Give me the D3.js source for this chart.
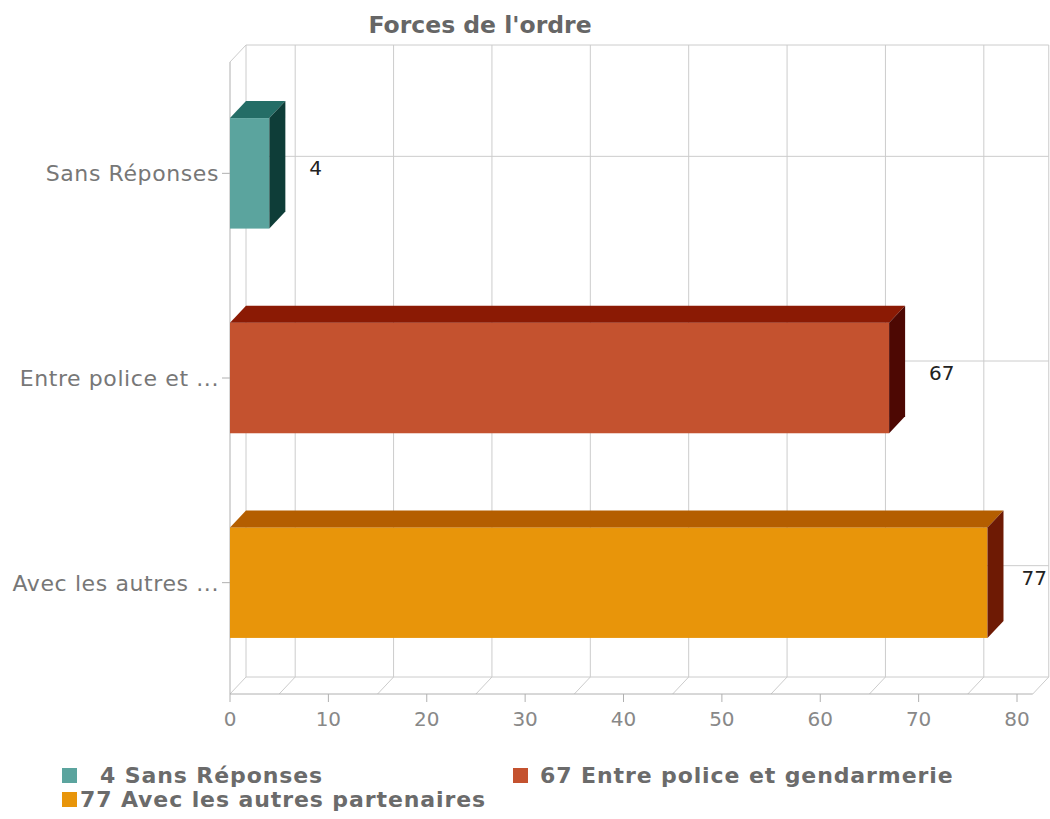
<!DOCTYPE html>
<html lang="fr">
<head>
<meta charset="UTF-8">
<title>Forces de l'ordre</title>
<style>
  body { margin: 0; background: #fff; }
  text { font-family: Verdana, "DejaVu Sans", sans-serif; }
</style>
</head>
<body>
<script src="https://cdnjs.cloudflare.com/ajax/libs/d3/7.8.5/d3.min.js"></script>
<script>
var categories = ["Sans Réponses", "Entre police et gendarmerie", "Avec les autres partenaires"];
var shortLabels = ["Sans Réponses", "Entre police et ...", "Avec les autres ..."];
var values = [4, 67, 77];
var xTicks = [0, 10, 20, 30, 40, 50, 60, 70, 80];
var frontColors = ["#5ba49e", "#c4522f", "#e8950a"];
var topColors = ["#246d66", "#8b1a04", "#b45e00"];
var sideColors = ["#0e3d38", "#4d0803", "#6e1a04"];

var width = 1050, height = 819;
var dx = 16, dy = -17;              // depth of the 3d effect
var plotTop = 62, plotBottom = 694; // front plane
var xMax = 81.6;

var svg = d3.select("body").append("svg")
  .attr("width", width).attr("height", height);

var x = d3.scaleLinear().domain([0, 80]).range([230, 1017]);
var y = d3.scaleBand().domain(categories).range([71, 685])
  .paddingInner(0.46).paddingOuter(0.23);

var grid = svg.append("g").attr("stroke", "#cccccc").attr("stroke-width", 1).attr("fill", "none");

// back wall
var backLines = [0].concat(d3.range(5, 80, 10)).concat([xMax]);
grid.selectAll("line.v").data(backLines).enter().append("line")
  .attr("x1", function(d) { return x(d) + dx; }).attr("x2", function(d) { return x(d) + dx; })
  .attr("y1", plotTop + dy).attr("y2", plotBottom + dy);
grid.append("line").attr("x1", x(0) + dx).attr("x2", x(xMax) + dx)
  .attr("y1", plotTop + dy).attr("y2", plotTop + dy);
grid.selectAll("line.h").data(categories).enter().append("line")
  .attr("x1", x(0) + dx).attr("x2", x(xMax) + dx)
  .attr("y1", function(d) { return y(d) + y.bandwidth() / 2 + dy; })
  .attr("y2", function(d) { return y(d) + y.bandwidth() / 2 + dy; });

// floor
grid.append("line").attr("x1", x(0) + dx).attr("x2", x(xMax) + dx)
  .attr("y1", plotBottom + dy).attr("y2", plotBottom + dy);
grid.selectAll("line.d").data(backLines).enter().append("line")
  .attr("x1", function(d) { return x(d); }).attr("x2", function(d) { return x(d) + dx; })
  .attr("y1", plotBottom).attr("y2", plotBottom + dy);

// left wall
grid.append("line").attr("x1", x(0)).attr("x2", x(0) + dx)
  .attr("y1", plotTop).attr("y2", plotTop + dy);
grid.append("line").attr("x1", x(0)).attr("x2", x(0))
  .attr("y1", plotTop).attr("y2", plotBottom).attr("stroke", "#b0b0b0");
grid.append("line").attr("x1", x(0)).attr("x2", x(xMax))
  .attr("y1", plotBottom).attr("y2", plotBottom).attr("stroke", "#b0b0b0");

// axis ticks
grid.selectAll("line.xt").data(xTicks).enter().append("line")
  .attr("x1", function(d) { return x(d); }).attr("x2", function(d) { return x(d); })
  .attr("y1", plotBottom).attr("y2", plotBottom + 8).attr("stroke", "#b0b0b0");
grid.selectAll("line.yt").data(categories).enter().append("line")
  .attr("x1", x(0) - 8).attr("x2", x(0))
  .attr("y1", function(d) { return y(d) + y.bandwidth() / 2; })
  .attr("y2", function(d) { return y(d) + y.bandwidth() / 2; })
  .attr("stroke", "#b0b0b0");

svg.selectAll("text.xl").data(xTicks).enter().append("text")
  .attr("x", function(d) { return x(d); }).attr("y", 726)
  .attr("text-anchor", "middle").attr("font-size", 20).attr("fill", "#888")
  .text(function(d) { return d; });

svg.selectAll("text.yl").data(categories).enter().append("text")
  .attr("x", x(0) - 11)
  .attr("y", function(d) { return y(d) + y.bandwidth() / 2 + 8; })
  .attr("text-anchor", "end").attr("font-size", 22).attr("letter-spacing", 0.6)
  .attr("fill", "#777")
  .text(function(d, i) { return shortLabels[i]; });

// bars
var bars = svg.selectAll("g.bar").data(values).enter().append("g");
bars.append("rect")
  .attr("x", x(0))
  .attr("y", function(d, i) { return y(categories[i]); })
  .attr("width", function(d) { return x(d) - x(0); })
  .attr("height", y.bandwidth())
  .attr("fill", function(d, i) { return frontColors[i]; });
bars.append("polygon")
  .attr("points", function(d, i) {
    var y0 = y(categories[i]), x0 = x(0), x1 = x(d);
    return [[x0, y0], [x0 + dx, y0 + dy], [x1 + dx, y0 + dy], [x1, y0]].join(" ");
  })
  .attr("fill", function(d, i) { return topColors[i]; });
bars.append("polygon")
  .attr("points", function(d, i) {
    var y0 = y(categories[i]), x1 = x(d), h = y.bandwidth();
    return [[x1, y0], [x1 + dx, y0 + dy], [x1 + dx, y0 + h + dy], [x1, y0 + h]].join(" ");
  })
  .attr("fill", function(d, i) { return sideColors[i]; });
bars.append("text")
  .attr("x", function(d) { return x(d) + dx + 24; })
  .attr("y", function(d, i) { return y(categories[i]) + y.bandwidth() / 2 + 2; })
  .attr("font-size", 20).attr("fill", "#222")
  .text(function(d) { return d; })
  .each(function() {
    // keep the label inside the picture
    var t = d3.select(this), w = this.getComputedTextLength();
    var lx = +t.attr("x");
    if (lx + w > width - 3) t.attr("x", width - 3 - w);
  });

// title
svg.append("text").attr("x", 480).attr("y", 33).attr("text-anchor", "middle")
  .attr("font-size", 23.5).attr("font-weight", "bold").attr("fill", "#666")
  .text("Forces de l'ordre");

// legend
var legendPos = [[62, 768, 38], [513, 768, 27], [62, 792, 18]];
var legend = svg.selectAll("g.leg").data(values).enter().append("g")
  .attr("transform", function(d, i) { return "translate(" + legendPos[i][0] + "," + legendPos[i][1] + ")"; });
legend.append("rect").attr("width", 15).attr("height", 15)
  .attr("fill", function(d, i) { return frontColors[i]; });
legend.append("text")
  .attr("x", function(d, i) { return legendPos[i][2]; }).attr("y", 15)
  .attr("font-size", 22).attr("letter-spacing", 0.9).attr("font-weight", "bold")
  .attr("fill", "#6b6b6b")
  .text(function(d, i) { return d + " " + categories[i]; });
</script>
</body>
</html>
